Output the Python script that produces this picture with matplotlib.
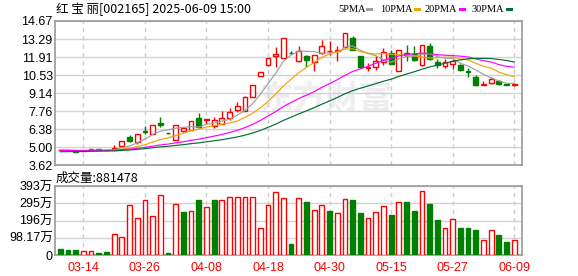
import matplotlib
matplotlib.use('Agg')
import matplotlib.pyplot as plt
import numpy as np
import pandas as pd
from matplotlib.patches import Rectangle

# trading days shown (MM-DD)
dates = ['03-11', '03-12', '03-13', '03-14', '03-17', '03-18', '03-19', '03-20', '03-21', '03-24',
         '03-25', '03-26', '03-27', '03-28', '03-31', '04-01', '04-02', '04-03', '04-07', '04-08',
         '04-09', '04-10', '04-11', '04-14', '04-15', '04-16', '04-17', '04-18', '04-21', '04-22',
         '04-23', '04-24', '04-25', '04-28', '04-29', '04-30', '05-06', '05-07', '05-08', '05-09',
         '05-12', '05-13', '05-14', '05-15', '05-16', '05-19', '05-20', '05-21', '05-22', '05-23',
         '05-26', '05-27', '05-28', '05-29', '05-30', '06-03', '06-04', '06-05', '06-06', '06-09']
tick_dates = ['03-14', '03-26', '04-08', '04-18', '04-30', '05-15', '05-27', '06-09']

opens = [4.77, 4.78, 4.74, 4.70, 4.82, 4.84, 4.80, 4.78, 5.12, 5.75,
         5.40, 6.23, 6.02, 6.83, 6.10, 5.56, 6.28, 6.31, 7.23, 7.07,
         6.66, 6.77, 7.23, 7.86, 7.81, 8.84, 10.45, 11.27, 11.96, 11.83,
         12.24, 11.57, 12.01, 11.55, 12.19, 12.37, 12.40, 12.65, 13.37, 11.96,
         11.08, 11.11, 11.50, 12.21, 10.86, 12.21, 12.14, 11.32, 12.78, 11.52,
         11.19, 11.37, 11.27, 10.81, 10.37, 9.76, 9.91, 10.07, 9.86, 9.78]
highs = [4.78, 4.79, 4.76, 4.74, 4.86, 4.86, 4.82, 5.18, 5.49, 5.94,
         6.04, 6.61, 6.71, 7.33, 6.12, 6.67, 6.58, 7.05, 7.61, 7.17,
         7.35, 7.79, 8.04, 8.45, 8.90, 9.80, 10.76, 11.83, 12.70, 13.38,
         12.40, 12.78, 12.10, 12.10, 13.24, 13.11, 12.78, 13.76, 13.54, 12.00,
         11.45, 11.96, 12.60, 12.42, 12.48, 12.85, 12.78, 12.86, 12.98, 11.78,
         11.73, 11.75, 11.35, 11.06, 10.50, 10.07, 10.37, 10.12, 9.88, 9.91]
lows = [4.76, 4.75, 4.63, 4.68, 4.80, 4.80, 4.76, 4.76, 5.10, 5.39,
        5.28, 6.05, 6.00, 6.55, 6.05, 5.55, 6.20, 6.30, 6.50, 6.79,
        6.46, 6.75, 7.07, 7.73, 7.80, 8.82, 10.43, 11.25, 11.16, 11.80,
        12.12, 11.55, 11.14, 10.83, 12.17, 12.09, 11.63, 12.63, 12.45, 11.08,
        10.81, 10.94, 11.29, 11.35, 10.84, 11.57, 11.57, 11.19, 11.70, 11.06,
        11.09, 10.99, 10.83, 10.37, 9.73, 9.75, 9.81, 9.78, 9.76, 9.71]
closes = [4.77, 4.76, 4.65, 4.72, 4.85, 4.81, 4.77, 4.92, 5.49, 5.52,
          6.02, 6.16, 6.70, 6.72, 6.07, 6.67, 6.46, 7.02, 6.54, 7.15,
          7.10, 7.23, 7.69, 8.17, 8.88, 9.77, 10.75, 11.83, 12.16, 13.38,
          12.19, 12.34, 11.65, 12.06, 12.75, 12.39, 12.42, 13.75, 12.47, 11.12,
          11.13, 11.58, 12.27, 11.40, 12.47, 12.09, 11.70, 12.85, 11.75, 11.32,
          11.50, 11.63, 10.94, 10.73, 9.78, 9.86, 10.24, 9.81, 9.78, 9.84]
# closes before the window (estimated, only feed the moving averages)
pre_closes = [4.46, 4.48, 4.50, 4.52, 4.49, 4.51, 4.50, 4.53, 4.50, 4.51,
              4.62, 4.65, 4.66, 4.70, 4.68, 4.71, 4.70, 4.72, 4.73, 4.73,
              4.76, 4.78, 4.80, 4.81, 4.79, 4.80, 4.79, 4.80, 4.80]
# volume in 万
volumes = [34, 28, 28, 21, 21, 11, 17, 118, 101, 285,
           209, 311, 220, 340, 11, 289, 245, 249, 311, 272,
           311, 315, 329, 329, 329, 329, 152, 285, 357, 323,
           63, 323, 302, 255, 283, 251, 237, 317, 313, 239,
           209, 243, 277, 228, 300, 302, 251, 363, 291, 200,
           152, 203, 154, 154, 143, 84, 141, 114, 74, 88.1478]

price_ticks = [3.62, 5.00, 6.38, 7.76, 9.14, 10.53, 11.91, 13.29, 14.67]
vol_ticks = [0, 98.17, 196.34, 294.51, 392.68]
vol_tick_labels = ['0', '98.17万', '196万', '295万', '393万']
ma_periods = [5, 10, 20, 30]
ma_names = ['5PMA', '10PMA', '20PMA', '30PMA']
ma_colors = ['#a0a0a0', '#f5a300', '#ff00ff', '#006f33']

RED = '#ff0000'
GREEN = '#008000'
GRID = '#d2d2d2'
num_font = ['Liberation Sans', 'Noto Sans CJK SC']

o = np.array(opens); h = np.array(highs); l = np.array(lows); c = np.array(closes)
x = np.arange(len(c))
up = c >= o
prev_c = np.concatenate([[pre_closes[-1]], c[:-1]])
vol_up = c >= prev_c

allc = pd.Series(pre_closes + closes)
ma = [allc.rolling(n).mean().to_numpy()[-len(c):] for n in ma_periods]

fig = plt.figure(figsize=(5.78, 2.76), dpi=100)
ax = fig.add_axes([0.096, 0.401, 0.807, 0.523])
ax2 = fig.add_axes([0.096, 0.076, 0.807, 0.25])

tick_pos = [dates.index(d) for d in tick_dates]

for a in (ax, ax2):
    a.set_xlim(-0.62, 60.0)
    a.set_xticks(tick_pos)
    a.grid(axis='x', color='#cccccc', lw=1, ls=(0, (3, 3)))
    a.grid(axis='y', color=GRID, lw=1, ls='-')
    a.set_axisbelow(True)
    for s in a.spines.values():
        s.set_color('#999999')
        s.set_linewidth(1.2)
    a.tick_params(length=0, labelsize=9, pad=2)

# watermark
ax.text(0.58, 0.45, '东方财富', transform=ax.transAxes, fontsize=24, fontweight='bold',
        color='#eeeef0', ha='center', va='center', family=['Noto Sans CJK SC'], zorder=0)

# candles
w = 0.62
ax.vlines(x, l, h, colors=np.where(up, RED, GREEN), lw=1, zorder=2)
body_lo = np.minimum(o, c)
body_h = np.maximum(np.abs(c - o), 0.015)
ax.bar(x, body_h, bottom=body_lo, width=w, color=np.where(up, 'white', GREEN),
       edgecolor=np.where(up, RED, GREEN), linewidth=1, zorder=3)

for vals, col in zip(ma, ma_colors):
    ax.plot(x, vals, color=col, lw=0.85, zorder=4)

ax.set_ylim(price_ticks[0], price_ticks[-1])
ax.set_yticks(price_ticks)
ax.set_yticklabels([f'{p:.2f}' for p in price_ticks], family=num_font)
ax.tick_params(axis='x', labelbottom=False)

# volume
ax2.bar(x, volumes, width=w, color=np.where(vol_up, 'white', GREEN),
        edgecolor=np.where(vol_up, RED, GREEN), linewidth=1, zorder=3)
ax2.set_ylim(0, vol_ticks[-1])
ax2.set_yticks(vol_ticks)
ax2.set_yticklabels(vol_tick_labels, family=num_font)
ax2.set_xticklabels(tick_dates, color=RED, family=num_font)
ax2.tick_params(axis='x', pad=5)

# header texts
fig.text(0.097, 0.965, '红 宝 丽[002165] 2025-06-09 15:00', fontsize=9,
         family=['Noto Sans CJK SC'], va='center', ha='left')
fig.text(0.097, 0.355, '成交量:%d' % round(volumes[-1] * 10000), fontsize=9,
         family=['Noto Sans CJK SC'], va='center', ha='left')

# moving-average legend: label then colour swatch
lab_x = [338, 380, 425, 472]
for name, col, px in zip(ma_names, ma_colors, lab_x):
    fig.text(px / 578, 0.966, name, fontsize=7.5, family=['Liberation Serif'],
             va='center', ha='left')
    sw = px + 6.2 * len(name) + 3
    fig.add_artist(Rectangle((sw / 578, 0.961), 7 / 578, 3 / 276, transform=fig.transFigure,
                             facecolor=col, edgecolor='none'))

fig.savefig('out.png', dpi=100)
